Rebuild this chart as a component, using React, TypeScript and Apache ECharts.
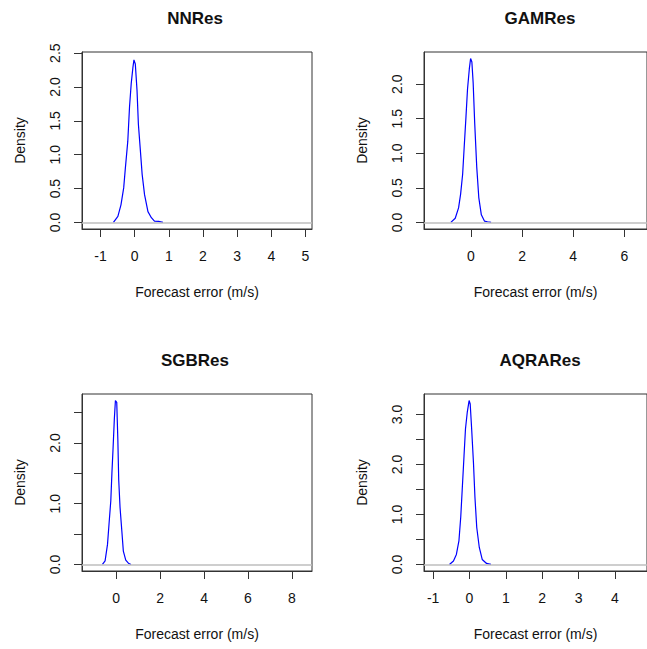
import React, { useEffect, useRef } from "react";
import * as echarts from "echarts";

// ---- Data ----
const titles = ["NNRes", "GAMRes", "SGBRes", "AQRARes"];

const nnX = [-0.62, -0.49, -0.40, -0.32, -0.27, -0.20, -0.15, -0.10, -0.05, -0.02, 0.02, 0.07, 0.11, 0.17, 0.22, 0.29, 0.39, 0.49, 0.58, 0.70, 0.83];
const nnY = [0.0, 0.09, 0.26, 0.51, 0.81, 1.20, 1.70, 2.05, 2.29, 2.40, 2.34, 1.95, 1.45, 1.05, 0.71, 0.41, 0.16, 0.07, 0.02, 0.015, 0.0];

const gamX = [-0.78, -0.61, -0.48, -0.40, -0.32, -0.26, -0.19, -0.13, -0.06, -0.01, 0.04, 0.09, 0.15, 0.23, 0.31, 0.41, 0.53, 0.65, 0.79];
const gamY = [0.0, 0.06, 0.21, 0.41, 0.70, 1.09, 1.53, 1.93, 2.22, 2.37, 2.32, 2.02, 1.44, 0.80, 0.36, 0.11, 0.02, 0.01, 0.0];

const sgbX = [-0.62, -0.50, -0.39, -0.32, -0.24, -0.19, -0.14, -0.08, -0.03, 0.03, 0.08, 0.12, 0.18, 0.26, 0.33, 0.44, 0.56, 0.68];
const sgbY = [0.0, 0.06, 0.33, 0.67, 1.05, 1.50, 1.89, 2.39, 2.70, 2.67, 2.06, 1.39, 0.94, 0.56, 0.22, 0.07, 0.02, 0.0];

const aqrX = [-0.55, -0.44, -0.36, -0.29, -0.24, -0.20, -0.15, -0.11, -0.06, -0.01, 0.02, 0.06, 0.11, 0.15, 0.20, 0.27, 0.35, 0.47, 0.59];
const aqrY = [0.0, 0.07, 0.20, 0.47, 0.95, 1.49, 2.17, 2.71, 3.05, 3.28, 3.21, 2.71, 2.03, 1.35, 0.74, 0.34, 0.10, 0.02, 0.0];

// axis limits
const xLims = [[-1.54, 5.19], [-1.83, 6.88], [-1.55, 8.91], [-1.25, 4.88]];
const yLims = [[-0.097, 2.517], [-0.095, 2.465], [-0.108, 2.808], [-0.131, 3.411]];

// ticks and labels
const xTicks = [[-1, 0, 1, 2, 3, 4, 5], [0, 2, 4, 6], [0, 2, 4, 6, 8], [-1, 0, 1, 2, 3, 4]];
const yTicks = [
  [0, 0.5, 1, 1.5, 2, 2.5],
  [0, 0.5, 1, 1.5, 2],
  [0, 0.5, 1, 1.5, 2, 2.5],
  [0, 0.5, 1, 1.5, 2, 2.5, 3],
];
const yLabels = [
  [0, 0.5, 1, 1.5, 2, 2.5],
  [0, 0.5, 1, 1.5, 2],
  [0, 1, 2],
  [0, 1, 2, 3],
];

const xName = "Forecast error (m/s)";
const yName = "Density";

const seriesX = [nnX, gamX, sgbX, aqrX];
const seriesY = [nnY, gamY, sgbY, aqrY];

// ---- Layout ----
const grids = [
  { left: 82, top: 52, width: 230, height: 177 },
  { left: 424, top: 52, width: 230, height: 177 },
  { left: 82, top: 394, width: 230, height: 177 },
  { left: 424, top: 394, width: 230, height: 177 },
];
const titlePos = [
  { x: 195, y: 10 },
  { x: 540, y: 10 },
  { x: 195, y: 352 },
  { x: 540, y: 352 },
];

const FONT = "'Liberation Sans', Arial, sans-serif";
const TXT = "#111";
const AX = "#333";

export default function App() {
  const ref = useRef<HTMLDivElement>(null);
  useEffect(() => {
    if (!ref.current) return;
    const chart = echarts.init(ref.current, undefined, { renderer: "svg" });
    const option: any = {
      animation: false,
      backgroundColor: "#ffffff",
      textStyle: { fontFamily: FONT },
      title: titles.map((t, i) => ({
        text: t,
        left: titlePos[i].x,
        top: titlePos[i].y,
        textAlign: "center",
        padding: 0,
        textStyle: { fontFamily: FONT, fontSize: 17, fontWeight: "bold", color: TXT },
      })),
      grid: grids.map((g) => ({
        ...g,
        show: true,
        borderColor: AX,
        borderWidth: 1,
        backgroundColor: "transparent",
        containLabel: false,
      })),
      xAxis: grids.map((_, i) => ({
        type: "value",
        gridIndex: i,
        position: "bottom",
        min: xLims[i][0],
        max: xLims[i][1],
        splitLine: { show: false },
        axisLine: { show: true, onZero: false, lineStyle: { color: AX, width: 1 } },
        axisTick: {
          show: true,
          inside: false,
          length: 8,
          customValues: xTicks[i],
          lineStyle: { color: AX, width: 1 },
        },
        axisLabel: {
          customValues: xTicks[i],
          formatter: (v: number) => String(v),
          margin: 20,
          fontSize: 14,
          color: TXT,
          fontFamily: FONT,
        },
        name: xName,
        nameLocation: "middle",
        nameGap: 56,
        nameTextStyle: { fontSize: 14, color: TXT, fontFamily: FONT },
      })),
      yAxis: grids.map((_, i) => ({
        type: "value",
        gridIndex: i,
        position: "left",
        min: yLims[i][0],
        max: yLims[i][1],
        splitLine: { show: false },
        axisLine: { show: true, onZero: false, lineStyle: { color: AX, width: 1 } },
        axisTick: {
          show: true,
          inside: false,
          length: 8,
          customValues: yTicks[i],
          lineStyle: { color: AX, width: 1 },
        },
        axisLabel: {
          customValues: yLabels[i],
          formatter: (v: number) => v.toFixed(1),
          rotate: 90,
          margin: 20,
          fontSize: 14,
          color: TXT,
          fontFamily: FONT,
        },
        name: yName,
        nameLocation: "middle",
        nameGap: 55,
        nameTextStyle: { fontSize: 14, color: TXT, fontFamily: FONT },
      })),
      series: [
        ...grids.map((_, i) => ({
          type: "line",
          xAxisIndex: i,
          yAxisIndex: i,
          data: seriesX[i].map((x, k) => [x, seriesY[i][k]]),
          showSymbol: false,
          symbol: "none",
          smooth: false,
          lineStyle: { color: "#0000ff", width: 1.2 },
          z: 2,
        })),
        ...grids.map((_, i) => ({
          type: "line",
          xAxisIndex: i,
          yAxisIndex: i,
          data: [],
          z: 3,
          markLine: {
            silent: true,
            symbol: "none",
            label: { show: false },
            lineStyle: { color: "#bebebe", width: 1.5, type: "solid" },
            data: [{ yAxis: 0 }],
          },
        })),
      ],
    };
    chart.setOption(option);
    return () => chart.dispose();
  }, []);
  return (
    <div
      ref={ref}
      style={{ position: "fixed", left: 0, top: 0, width: 647, height: 649, background: "#fff" }}
    />
  );
}
